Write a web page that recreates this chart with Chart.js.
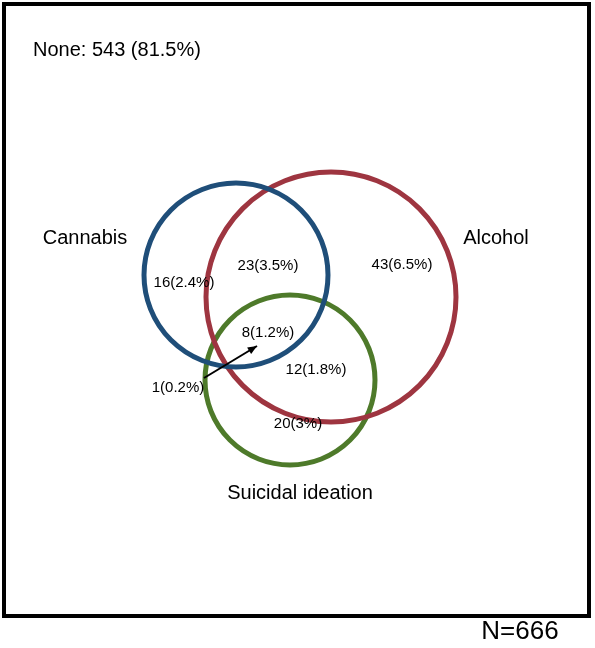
<!DOCTYPE html>
<html><head><meta charset="utf-8">
<script src="https://cdn.jsdelivr.net/npm/chart.js@4/dist/chart.umd.min.js"></script>
<style>html,body{margin:0;padding:0;background:#fff}</style>
</head><body>
<canvas id="venn" width="595" height="648"></canvas>
<script>
// circles in page units (x right, y down)
const setNames = ['Cannabis', 'Alcohol', 'Suicidal ideation'];
const setColors = ['#1f4e79', '#9e3540', '#4e7a2a'];
const circleX = [236, 331, 290];
const circleY = [275, 297, 380];
const circleR = [92, 125, 85];
const setLabelX = [85, 496, 300];
const setLabelY = [238, 238, 493];

const regionLabels = ['23(3.5%)', '43(6.5%)', '16(2.4%)', '8(1.2%)', '12(1.8%)', '1(0.2%)', '20(3%)'];
const regionX = [268, 402, 184, 268, 316, 178, 298];
const regionY = [266, 265, 283, 333, 370, 388, 424];

const noneText = 'None: 543 (81.5%)';
const totalText = 'N=666';

const textPlugin = {
    id: 'vennText',
    afterDraw(chart) {
        const { ctx, scales: { x, y } } = chart;
        ctx.save();
        // frame
        ctx.strokeStyle = '#000';
        ctx.lineWidth = 4;
        ctx.strokeRect(x.getPixelForValue(4), y.getPixelForValue(4), x.getPixelForValue(589) - x.getPixelForValue(4), y.getPixelForValue(616) - y.getPixelForValue(4));
        ctx.fillStyle = '#000';
        ctx.textBaseline = 'middle';
        ctx.font = '20px "Liberation Sans", Arial';
        ctx.textAlign = 'left';
        ctx.fillText(noneText, x.getPixelForValue(33), y.getPixelForValue(50));
        ctx.textAlign = 'center';
        setNames.forEach((n, i) => ctx.fillText(n, x.getPixelForValue(setLabelX[i]), y.getPixelForValue(setLabelY[i])));
        ctx.font = '26px "Liberation Sans", Arial';
        ctx.fillText(totalText, x.getPixelForValue(520), y.getPixelForValue(632));
        ctx.font = '15px "Liberation Sans", Arial';
        regionLabels.forEach((t, i) => ctx.fillText(t, x.getPixelForValue(regionX[i]), y.getPixelForValue(regionY[i])));
        // arrow from 1(0.2%) to the tiny region
        const x0 = x.getPixelForValue(204), y0 = y.getPixelForValue(378);
        const x1 = x.getPixelForValue(257), y1 = y.getPixelForValue(346);
        ctx.lineWidth = 2;
        ctx.beginPath(); ctx.moveTo(x0, y0); ctx.lineTo(x1, y1); ctx.stroke();
        const a = Math.atan2(y1 - y0, x1 - x0);
        ctx.beginPath();
        ctx.moveTo(x1, y1);
        ctx.lineTo(x1 - 10 * Math.cos(a - 0.4), y1 - 10 * Math.sin(a - 0.4));
        ctx.lineTo(x1 - 10 * Math.cos(a + 0.4), y1 - 10 * Math.sin(a + 0.4));
        ctx.closePath(); ctx.fill();
        ctx.restore();
    }
};

new Chart(document.getElementById('venn'), {
    type: 'bubble',
    data: {
        datasets: setNames.map((n, i) => ({
            label: n,
            data: [{ x: circleX[i], y: circleY[i], r: circleR[i] }],
            borderColor: setColors[i],
            backgroundColor: 'rgba(0,0,0,0)',
            borderWidth: 5,
            clip: false
        }))
    },
    options: {
        responsive: false,
        animation: false,
        layout: { padding: 0, autoPadding: false },
        scales: {
            x: { type: 'linear', min: 0, max: 595, display: false },
            y: { type: 'linear', min: 0, max: 648, reverse: true, display: false }
        },
        plugins: { legend: { display: false }, tooltip: { enabled: false } }
    },
    plugins: [textPlugin]
});
</script>
</body></html>
